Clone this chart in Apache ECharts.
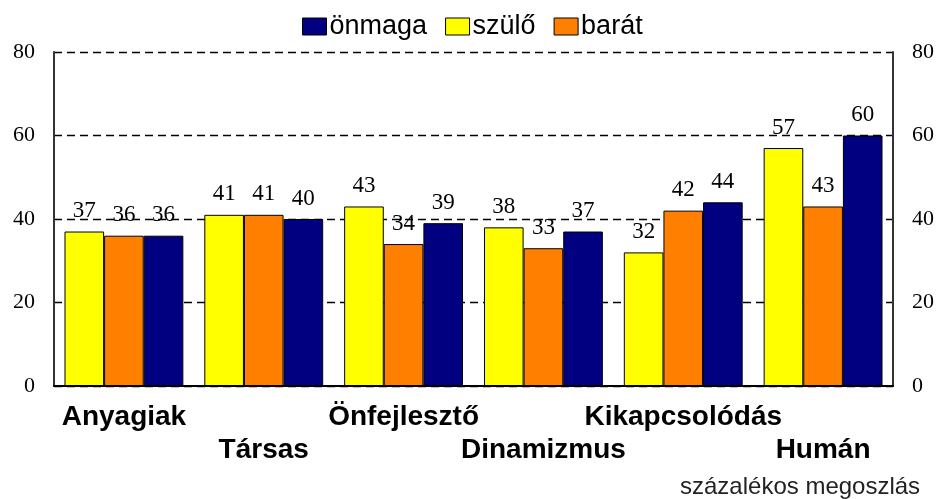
<!DOCTYPE html>
<html>
<head>
<meta charset="utf-8">
<script src="https://cdn.jsdelivr.net/npm/echarts@6/dist/echarts.min.js"></script>
<style>
  html, body { margin: 0; padding: 0; background: #fff; }
  #chart { width: 938px; height: 499px; }
</style>
</head>
<body>
<div id="chart"></div>
<script>
// Categories and values per group
const categories = ['Anyagiak', 'Társas', 'Önfejlesztő', 'Dinamizmus', 'Kikapcsolódás', 'Humán'];
const szulo  = [37, 41, 43, 38, 32, 57];
const barat  = [36, 41, 34, 33, 42, 43];
const onmaga = [36, 40, 39, 37, 44, 60];
const legendOrder = ['önmaga', 'szülő', 'barát'];
const axisMin = 0;
const axisMax = 80;
const axisStep = 20;
const footnote = 'százalékos megoszlás';

const serif = "'Liberation Serif', 'Times New Roman', serif";
const sans = "'Liberation Sans', Arial, sans-serif";

const chart = echarts.init(document.getElementById('chart'), null, { renderer: 'canvas' });

const valueLabel = {
  show: true,
  position: 'top',
  distance: 9,
  fontFamily: serif,
  fontSize: 23,
  color: '#000'
};

function barSeries(name, data, color) {
  return {
    name: name,
    type: 'bar',
    data: data,
    barGap: '0%',
    barCategoryGap: '15%',
    itemStyle: { color: color, borderColor: '#000', borderWidth: 1 },
    label: valueLabel,
    emphasis: { disabled: true },
    animation: false
  };
}

function valueAxis(pos, showLine) {
  return {
    type: 'value',
    position: pos,
    min: axisMin,
    max: axisMax,
    interval: axisStep,
    axisLine: { show: true, lineStyle: { color: '#333', width: 2 } },
    axisTick: { show: false },
    axisLabel: { fontFamily: serif, fontSize: 22, color: '#000', margin: 19 },
    splitLine: {
      show: showLine,
      lineStyle: { color: '#000', type: [8, 5], width: 1.3 }
    }
  };
}

chart.setOption({
  backgroundColor: '#fff',
  animation: false,
  title: {
    text: footnote,
    left: 675,
    top: 470,
    textStyle: { fontFamily: sans, fontSize: 24, fontWeight: 'normal', color: '#222' }
  },
  legend: {
    data: legendOrder,
    left: 297,
    top: 8,
    itemWidth: 24,
    itemHeight: 17,
    itemGap: 18,
    icon: 'rect',
    selectedMode: false,
    textStyle: { fontFamily: sans, fontSize: 27, color: '#000', padding: [0, 0, 0, -2] },
    itemStyle: { borderColor: '#000', borderWidth: 1 }
  },
  grid: { left: 54, right: 45, top: 52, bottom: 113, containLabel: false },
  xAxis: {
    type: 'category',
    data: categories,
    axisLine: { show: true, lineStyle: { color: '#000', width: 2 } },
    axisTick: { show: false },
    axisLabel: {
      interval: 0,
      margin: 15,
      fontFamily: sans,
      fontWeight: 'bold',
      fontSize: 28,
      lineHeight: 33,
      color: '#000',
      formatter: function (value, index) {
        return index % 2 === 1 ? '\n' + value : value;
      }
    }
  },
  yAxis: [valueAxis('left', true), valueAxis('right', false)],
  series: [
    barSeries('szülő', szulo, '#FFFF00'),
    barSeries('barát', barat, '#FF8000'),
    barSeries('önmaga', onmaga, '#000080')
  ]
});
</script>
</body>
</html>
